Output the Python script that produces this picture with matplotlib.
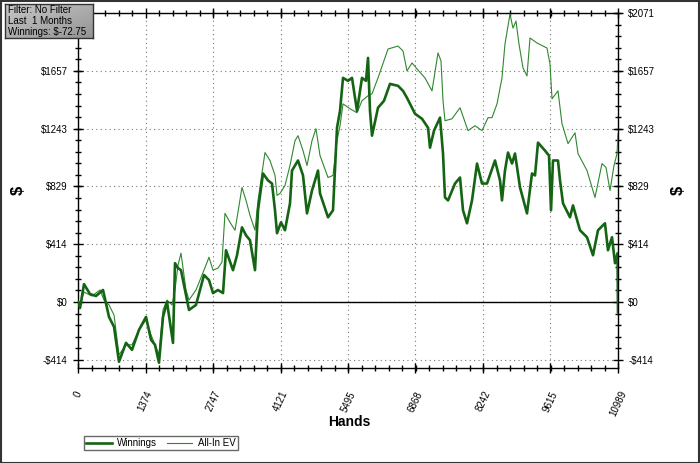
import numpy as np
import matplotlib
matplotlib.use("Agg")
import matplotlib.pyplot as plt
from matplotlib.ticker import FixedLocator, AutoMinorLocator, FuncFormatter
from matplotlib.patches import Rectangle

# ---------------- data ----------------
win_hands = [0, 41, 122, 244, 366, 509, 631, 733, 834, 977, 1099, 1241, 1384, 1486, 1567,
             1648, 1730, 1811, 1933, 1974, 2035, 2096, 2259, 2401, 2564, 2666, 2747, 2849,
             2951, 3012, 3154, 3236, 3337, 3419, 3500, 3602, 3663, 3765, 3867, 3948, 4009,
             4050, 4131, 4212, 4314, 4355, 4477, 4579, 4660, 4762, 4884, 4925, 5088, 5189,
             5271, 5332, 5393, 5495, 5576, 5678, 5779, 5861, 5902, 5942, 5983, 6105, 6227,
             6349, 6512, 6614, 6695, 6858, 7000, 7123, 7163, 7245, 7367, 7428, 7468, 7530,
             7672, 7774, 7835, 7916, 8018, 8120, 8221, 8323, 8486, 8588, 8628, 8689, 8751,
             8832, 8893, 8995, 9137, 9239, 9300, 9361, 9503, 9585, 9626, 9666, 9768, 9809,
             9870, 10012, 10073, 10175, 10216, 10358, 10480, 10582, 10724, 10785, 10867,
             10928, 10980, 10989]
win_values = [0, -43, 128, 57, 43, 86, -107, -178, -428, -293, -343, -200, -107, -271, -307,
              -435, -107, 0, -293, 278, 243, 228, -57, -21, 193, 157, 64, 86,
              64, 371, 228, 335, 535, 478, 443, 228, 657, 921, 871, 849, 657,
              493, 571, 514, 707, 942, 1014, 907, 635, 799, 942, 778, 607, 657,
              1249, 1370, 1606, 1585, 1606, 1370, 1606, 1585, 1749, 1370, 1192, 1392, 1442,
              1563, 1549, 1513, 1463, 1349, 1313, 1249, 1106, 1228, 1321, 1064, 749, 728,
              849, 892, 657, 564, 728, 992, 849, 849, 1014, 871, 728, 942, 1071,
              992, 1064, 821, 635, 921, 907, 1142, 1085, 1049, 657, 1014, 1014, 871,
              707, 607, 692, 564, 514, 464, 335, 514, 564, 371, 464,
              278, 350, -72.75]

ev_hands = [0, 41, 122, 285, 448, 529, 631, 733, 834, 977, 1099, 1241, 1384, 1486, 1567,
            1648, 1730, 1811, 1913, 1974, 2035, 2096, 2198, 2259, 2401, 2564, 2666, 2747,
            2849, 2930, 2991, 3093, 3195, 3337, 3419, 3500, 3602, 3663, 3805, 3907, 4009,
            4050, 4111, 4212, 4314, 4416, 4477, 4579, 4660, 4762, 4843, 4925, 5088, 5189,
            5271, 5332, 5393, 5535, 5678, 5779, 5902, 5983, 6105, 6309, 6512, 6614, 6695,
            6797, 6899, 7061, 7204, 7326, 7387, 7428, 7468, 7611, 7774, 7937, 8079, 8221,
            8344, 8425, 8527, 8628, 8689, 8791, 8852, 8913, 8974, 9056, 9137, 9198, 9341,
            9544, 9605, 9646, 9768, 9849, 9972, 10114, 10175, 10358, 10521, 10663, 10745,
            10826, 10908, 10969, 10989]
ev_values = [0, -21, 71, 43, 86, 14, -21, -93, -378, -307, -307, -200, -128, -236, -307,
             -378, -57, 14, -21, 86, 264, 350, 86, 14, 86, 228, 321, 228,
             243, 286, 635, 571, 514, 821, 728, 621, 514, 728, 1071, 1014, 907,
             764, 778, 835, 978, 1156, 1192, 1085, 978, 1156, 1242, 1049, 892, 907,
             1156, 1263, 1420, 1385, 1356, 1442, 1478, 1492, 1606, 1813, 1834, 1799, 1656,
             1713, 1670, 1606, 1513, 1785, 1727, 1442, 1299, 1313, 1392, 1228, 1263, 1228,
             1321, 1321, 1420, 1606, 1849, 2063, 1963, 2013, 1849, 1677, 1620, 1892, 1856,
             1820, 1706, 1456, 1513, 1278, 1135, 1213, 1064, 942, 749, 992, 964,
             799, 978, 1064, 1206]

x_ticks = [0, 1374, 2747, 4121, 5495, 6868, 8242, 9615, 10989]
y_ticks = [-414, 0, 414, 829, 1243, 1657, 2071]
info_lines = ["Filter: No Filter", "Last  1 Months", "Winnings: $-72.75"]
series_labels = ["Winnings", "All-In EV"]

# ---------------- figure ----------------
W, H = 700, 463
fig = plt.figure(figsize=(W / 100, H / 100), dpi=100)
fig.patch.set_facecolor("white")
font = "Liberation Sans"

L, R, T, B = 78, 618, 13, 368
ax = fig.add_axes([L / W, 1 - B / H, (R - L) / W, (B - T) / H])

win_c = "#146414"
ev_c = "#2f872f"
ax.plot(ev_hands, ev_values, color=ev_c, lw=0.8, zorder=3, label=series_labels[1])
ax.plot(win_hands, win_values, color=win_c, lw=1.9, zorder=4, label=series_labels[0])
ax.axhline(0, color="black", lw=1.0, zorder=2)

ax.set_xlim(0, 10989)
ax.set_ylim(-473, 2071)

ax.xaxis.set_major_locator(FixedLocator(x_ticks))
ax.yaxis.set_major_locator(FixedLocator(y_ticks))
ax.xaxis.set_minor_locator(AutoMinorLocator(5))
ax.yaxis.set_minor_locator(AutoMinorLocator(5))
ax.yaxis.set_major_formatter(FuncFormatter(lambda v, p: f"-${abs(v):.0f}" if v < 0 else f"${v:.0f}"))
ax.xaxis.set_major_formatter(FuncFormatter(lambda v, p: f"{v:.0f}"))

ax.grid(True, which="major", color="#777777", linestyle=(0, (1, 3)), lw=0.8)
ax.tick_params(which="major", direction="inout", length=7, width=1,
               top=True, right=True, labelright=True, labelsize=7, pad=4)
ax.tick_params(which="minor", direction="inout", length=4.5, width=1, top=True, right=True)
ax.tick_params(axis="x", which="major", pad=12)
for lbl in ax.get_xticklabels():
    lbl.set_rotation(65)
    lbl.set_ha("center")
    lbl.set_va("top")
    lbl.set_fontfamily(font)
yt = ax.yaxis.get_major_ticks()
for t in yt:
    t.label2.set_fontfamily(font)
    t.label1.set_fontfamily(font)
# the top-left label sits hidden under the info box in the reference
yt[-1].label1.set_visible(False)
for s in ax.spines.values():
    s.set_linewidth(1)
    s.set_color("black")

# axis titles
fig.text(18 / W, 1 - 190 / H, "$", rotation=90, fontsize=12, fontweight="bold",
         ha="center", va="center", family=font)
fig.text(678 / W, 1 - 190 / H, "$", rotation=90, fontsize=12, fontweight="bold",
         ha="center", va="center", family=font)
fig.text(349 / W, 1 - 422 / H, "Hands", fontsize=10, fontweight="bold",
         ha="center", va="center", family=font)

# legend
handles, labels = ax.get_legend_handles_labels()
order = [1, 0]
leg = fig.legend([handles[i] for i in order], [labels[i] for i in order],
                 loc="center left", bbox_to_anchor=(79 / W, 1 - 443 / H), ncol=2,
                 frameon=True, fancybox=False, handlelength=2.6,
                 borderpad=0.25, handletextpad=0.6, columnspacing=1.0,
                 prop={"family": font, "size": 7})
leg.get_frame().set_edgecolor("#444444")
leg.get_frame().set_linewidth(1)

# info box with gradient
bx = fig.add_axes([5 / W, 1 - 38 / H, 88 / W, 34 / H], zorder=10)
gx, gy = np.meshgrid(np.linspace(0, 1, 60), np.linspace(0, 1, 30))
grad = 0.78 - 0.2 * (0.5 * gx + 0.5 * gy)
bx.imshow(grad, cmap="gray", vmin=0, vmax=1, aspect="auto", extent=(0, 1, 0, 1), origin="upper")
bx.set_xlim(0, 1)
bx.set_ylim(0, 1)
bx.set_xticks([])
bx.set_yticks([])
for s in bx.spines.values():
    s.set_color("#333333")
    s.set_linewidth(1)
bx.text(0.03, 0.5, "\n".join(info_lines), fontsize=7, color="black", linespacing=1.15,
        ha="left", va="center", family=font, transform=bx.transAxes)

# figure border
fig.patches.append(Rectangle((0.001, 0.001), 0.998, 0.997, transform=fig.transFigure,
                             fill=False, edgecolor="#333333", lw=1.5))

fig.savefig("out.png", dpi=100)
